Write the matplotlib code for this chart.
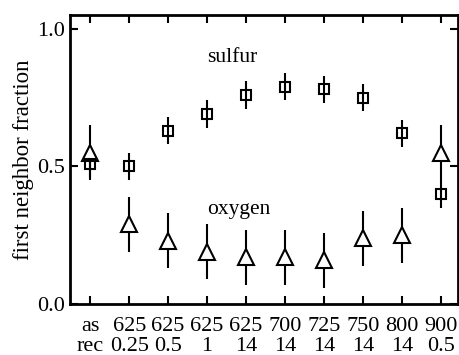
import numpy as np
import matplotlib.pyplot as plt

plt.rcParams['font.family'] = ['Liberation Serif', 'DejaVu Serif']

labels = ['as\nrec', '625\n0.25', '625\n0.5', '625\n1', '625\n14',
          '700\n14', '725\n14', '750\n14', '800\n14', '900\n0.5']

sulfur = np.array([0.51, 0.50, 0.63, 0.69, 0.76, 0.79, 0.78, 0.75, 0.62, 0.40])
sulfur_err = np.array([0.05, 0.05, 0.05, 0.05, 0.05, 0.05, 0.05, 0.05, 0.05, 0.05])

oxygen = np.array([0.55, 0.29, 0.23, 0.19, 0.17, 0.17, 0.16, 0.24, 0.25, 0.55])
oxygen_err = np.array([0.10, 0.10, 0.10, 0.10, 0.10, 0.10, 0.10, 0.10, 0.10, 0.10])

x = np.arange(len(labels))

fig = plt.figure(figsize=(4.59, 3.55), dpi=100)
ax = fig.add_axes([0.1525, 0.143, 0.846, 0.815])

ax.errorbar(x, oxygen, yerr=oxygen_err, fmt='^', color='black', mfc='white',
            ms=11.5, mew=1.5, elinewidth=1.5, capsize=0)
ax.errorbar(x, sulfur, yerr=sulfur_err, fmt='s', color='black', mfc='none',
            ms=7.5, mew=1.5, elinewidth=1.5, capsize=0)

ax.text(3.65, 0.895, 'sulfur', fontsize=15.5, ha='center', va='center')
ax.text(3.8, 0.344, 'oxygen', fontsize=15.5, ha='center', va='center')

ax.set_xlim(-0.52, 9.45)
ax.set_ylim(0, 1.05)
ax.set_xticks(x)
ax.set_xticklabels(labels, linespacing=1.08)
ax.set_yticks([0.0, 0.5, 1.0])
ax.set_yticklabels(['0.0', '0.5', '1.0'])
ax.set_ylabel('first neighbor fraction', fontsize=16.5, labelpad=2)

ax.tick_params(direction='in', length=6, width=1.5, labelsize=16,
               top=True, right=True)
ax.tick_params(axis='x', pad=9)
for s in ax.spines.values():
    s.set_linewidth(2)

fig.savefig('out.png', dpi=100)
